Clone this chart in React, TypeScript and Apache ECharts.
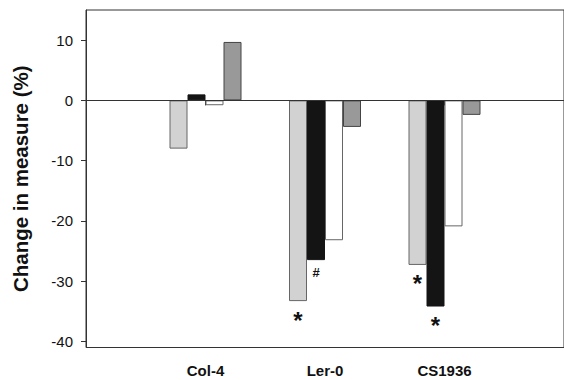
import React, { useEffect, useRef } from "react";
import * as echarts from "echarts";

const categories = ["", "Col-4", "Ler-0", "CS1936", ""];
const lightGray = [null, -8.0, -33.3, -27.3, null];
const black = [null, 1.0, -26.5, -34.2, null];
const white = [null, -0.8, -23.2, -20.9, null];
const darkGray = [null, 9.7, -4.4, -2.4, null];
const lightMarks = ["", "", "*", "*", ""];
const blackMarks = ["", "", "#", "*", ""];
const yTicks = [10, 0, -10, -20, -30, -40];

const FONT = "Liberation Sans, Arial, sans-serif";

function withMarks(values: (number | null)[], marks: string[]) {
  return values.map((v, i) => {
    if (v === null) return "-";
    const m = marks[i];
    if (!m) return v;
    const isStar = m === "*";
    return {
      value: v,
      label: {
        show: true,
        position: "bottom",
        distance: isStar ? 7 : 6,
        formatter: m,
        fontFamily: FONT,
        fontWeight: "bold",
        fontSize: isStar ? 24 : 13,
        color: "#111",
      },
    };
  });
}

export default function App() {
  const ref = useRef<HTMLDivElement>(null);
  useEffect(() => {
    if (!ref.current) return;
    const chart = echarts.init(ref.current, null, { renderer: "svg" });
    const bar = (name: string, data: any[], color: string, border: string, extra: any = {}) => ({
      name,
      type: "bar",
      data,
      barWidth: 18,
      barGap: "0%",
      itemStyle: { color, borderColor: border, borderWidth: 1 },
      ...extra,
    });
    chart.setOption({
      animation: false,
      grid: {
        left: 86,
        top: 10,
        bottom: 32.5,
        right: -5,
        show: true,
        borderColor: "#333",
        borderWidth: 1,
        backgroundColor: "transparent",
      },
      xAxis: {
        type: "category",
        data: categories,
        boundaryGap: false,
        axisLine: { lineStyle: { color: "#333", width: 1 } },
        axisTick: {
          show: true,
          length: 5,
          interval: (i: number) => i >= 1 && i <= 3,
          lineStyle: { color: "#333" },
        },
        axisLabel: {
          interval: (i: number) => i >= 1 && i <= 3,
          fontFamily: FONT,
          fontWeight: "bold",
          fontSize: 15,
          color: "#111",
          margin: 15,
        },
        splitLine: { show: false },
      },
      yAxis: {
        type: "value",
        min: -41,
        max: 15,
        name: "Change in measure (%)",
        nameLocation: "middle",
        nameGap: 55,
        nameTextStyle: { fontFamily: FONT, fontWeight: "bold", fontSize: 20.5, color: "#111" },
        axisLine: { show: true, lineStyle: { color: "#333", width: 1 } },
        axisTick: { show: true, length: 5, customValues: yTicks, lineStyle: { color: "#333" } },
        axisLabel: {
          customValues: yTicks,
          fontFamily: FONT,
          fontSize: 15,
          color: "#111",
          margin: 13,
        },
        splitLine: { show: false },
      },
      series: [
        bar("A", withMarks(lightGray, lightMarks), "#d2d2d2", "#666", {
          markLine: {
            silent: true,
            symbol: "none",
            label: { show: false },
            lineStyle: { color: "#333", width: 1, type: "solid" },
            data: [{ yAxis: 0 }],
          },
        }),
        bar("B", withMarks(black, blackMarks), "#141414", "#141414"),
        bar("C", white, "#ffffff", "#666"),
        bar("D", darkGray, "#999999", "#444"),
      ],
    });
    return () => chart.dispose();
  }, []);
  return (
    <div
      ref={ref}
      style={{ position: "fixed", left: 0, top: 0, width: 564, height: 380, background: "#fff" }}
    />
  );
}
